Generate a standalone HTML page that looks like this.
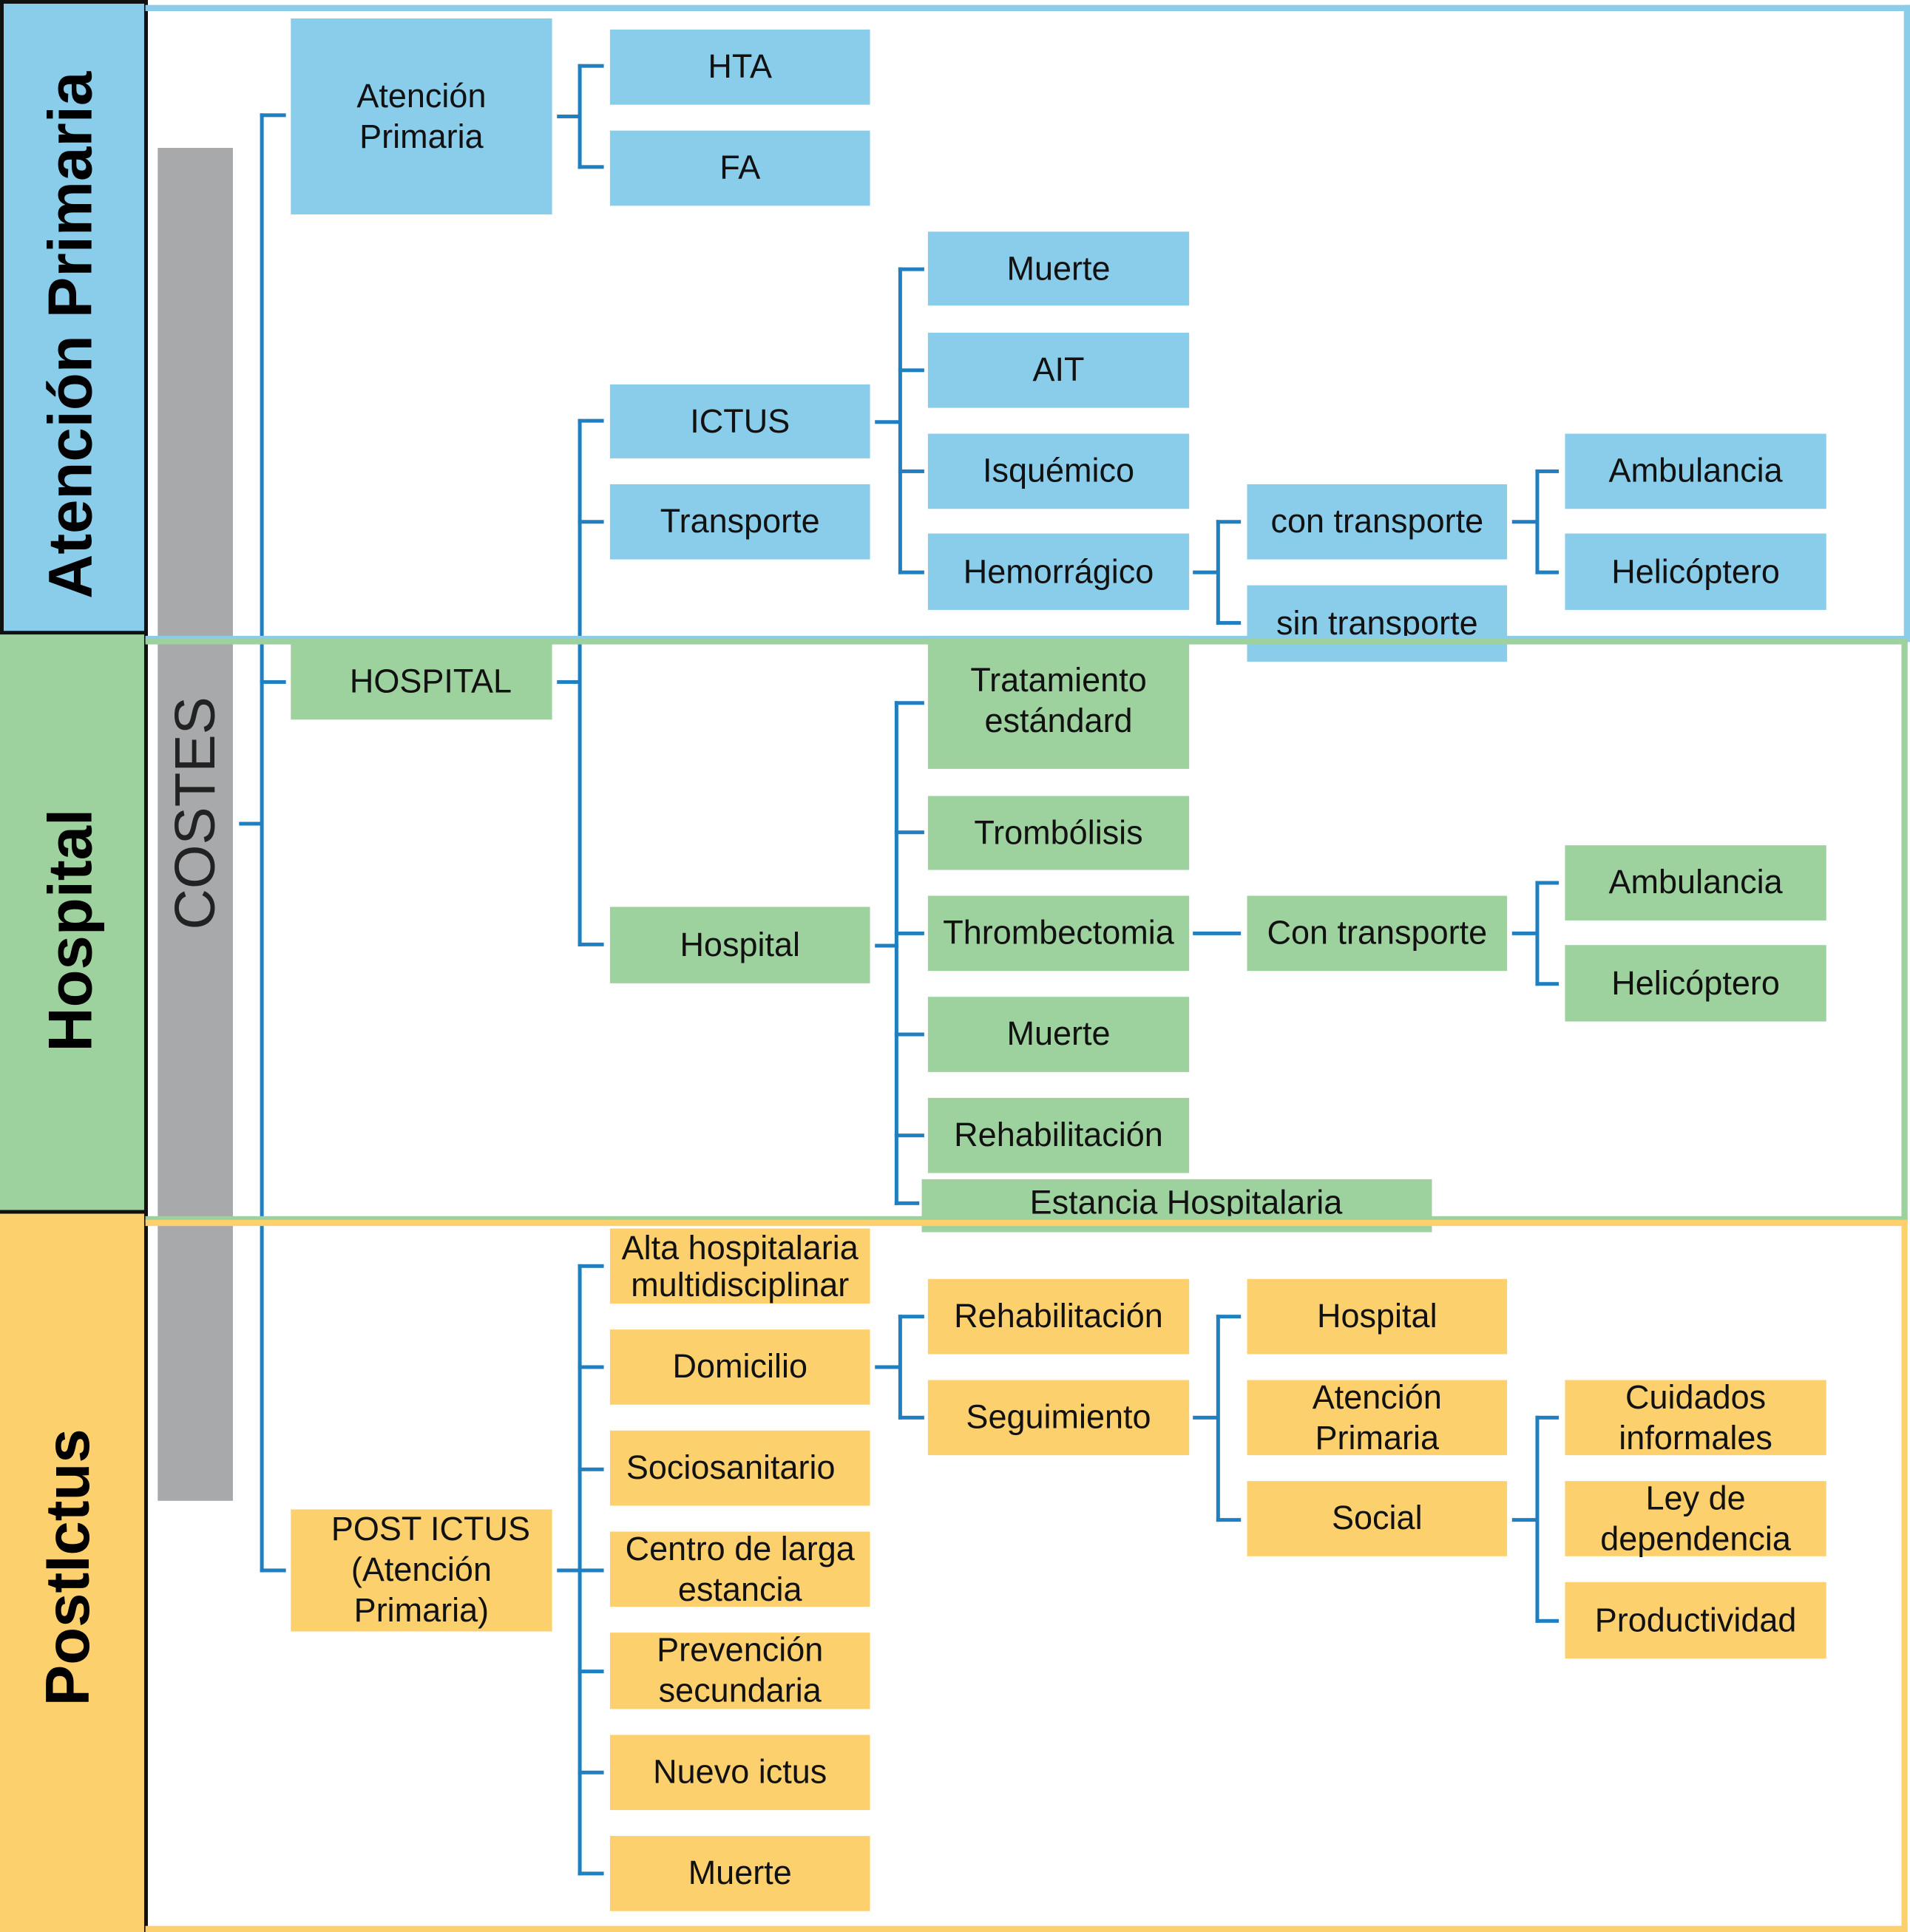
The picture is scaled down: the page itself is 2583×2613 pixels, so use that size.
<!DOCTYPE html>
<html><head><meta charset="utf-8"><style>
html,body{margin:0;padding:0;background:#fff;}
body{width:2583px;height:2613px;overflow:hidden;position:relative;}
#c{position:absolute;left:0;top:0;width:1550px;height:1568px;transform:scale(1.6665);transform-origin:0 0;font-family:"Liberation Sans",sans-serif;}
.b{position:absolute;display:flex;align-items:center;justify-content:center;text-align:center;font-size:27px;line-height:33px;color:#111;}
.bl{background:#89CDEA;}.gr{background:#9DD19D;}.ye{background:#FDD06E;}
.l{position:absolute;background:#1F7FC0;}
.f{position:absolute;box-sizing:border-box;}
.side{position:absolute;font-weight:bold;font-size:50px;white-space:nowrap;transform:translate(-50%,-50%) rotate(-90deg);color:#000;}
</style></head><body><div id="c">
<!-- side bands -->
<div style="position:absolute;left:0;top:0;width:120px;height:515px;background:#89CDEA;border:3px solid #111;box-sizing:border-box"></div>
<div style="position:absolute;left:0;top:515px;width:120px;height:470px;background:#9DD19D;border-bottom:3px solid #111;box-sizing:border-box"></div>
<div style="position:absolute;left:0;top:985px;width:120px;height:583px;background:#FDD06E"></div>
<div style="position:absolute;left:117px;top:0;width:3px;height:1568px;background:#111"></div>
<div class="side" style="left:57px;top:272px">Atención Primaria</div>
<div class="side" style="left:57px;top:755px">Hospital</div>
<div class="side" style="left:55px;top:1272px">PostIctus</div>
<!-- gray bar -->
<div style="position:absolute;left:128px;top:120px;width:61px;height:1098px;background:#A7A9AA"></div>
<div style="position:absolute;left:158px;top:660px;transform:translate(-50%,-50%) rotate(-90deg);font-size:46px;white-space:nowrap;color:#222">COSTES</div>
<!-- main connectors -->
<div class="l" style="left:194px;top:667px;width:19px;height:3px"></div>
<div class="l" style="left:211px;top:92px;width:3px;height:1184px"></div>
<div class="l" style="left:211px;top:92px;width:21px;height:3px"></div>
<div class="l" style="left:211px;top:552px;width:21px;height:3px"></div>
<div class="l" style="left:211px;top:1273px;width:21px;height:3px"></div>
<!-- AP -->
<div class="b bl" style="left:236px;top:15px;width:212px;height:159px">Atención<br>Primaria</div>
<div class="b bl" style="left:495px;top:24px;width:211px;height:61px">HTA</div>
<div class="b bl" style="left:495px;top:106px;width:211px;height:61px">FA</div>
<div class="l" style="left:452px;top:93px;width:19px;height:3px"></div>
<div class="l" style="left:469px;top:52px;width:3px;height:85px"></div>
<div class="l" style="left:469px;top:52px;width:21px;height:3px"></div>
<div class="l" style="left:469px;top:134px;width:21px;height:3px"></div>
<!-- HOSPITAL level -->
<div class="b gr" style="left:236px;top:522px;width:212px;height:62px">&nbsp;&nbsp;HOSPITAL</div>
<div class="l" style="left:452px;top:552px;width:19px;height:3px"></div>
<div class="l" style="left:469px;top:340px;width:3px;height:428px"></div>
<div class="l" style="left:469px;top:340px;width:21px;height:3px"></div>
<div class="l" style="left:469px;top:422px;width:21px;height:3px"></div>
<div class="l" style="left:469px;top:765px;width:21px;height:3px"></div>
<div class="b bl" style="left:495px;top:312px;width:211px;height:60px">ICTUS</div>
<div class="b bl" style="left:495px;top:393px;width:211px;height:61px">Transporte</div>
<div class="b gr" style="left:495px;top:736px;width:211px;height:62px">Hospital</div>
<!-- ICTUS -->
<div class="l" style="left:710px;top:341px;width:21px;height:3px"></div>
<div class="l" style="left:729px;top:217px;width:3px;height:249px"></div>
<div class="l" style="left:729px;top:217px;width:21px;height:3px"></div>
<div class="l" style="left:729px;top:299px;width:21px;height:3px"></div>
<div class="l" style="left:729px;top:381px;width:21px;height:3px"></div>
<div class="l" style="left:729px;top:463px;width:21px;height:3px"></div>
<div class="b bl" style="left:753px;top:188px;width:212px;height:60px">Muerte</div>
<div class="b bl" style="left:753px;top:270px;width:212px;height:61px">AIT</div>
<div class="b bl" style="left:753px;top:352px;width:212px;height:61px">Isquémico</div>
<div class="b bl" style="left:753px;top:433px;width:212px;height:62px">Hemorrágico</div>
<div class="l" style="left:968px;top:463px;width:21px;height:3px"></div>
<div class="l" style="left:987px;top:422px;width:3px;height:85px"></div>
<div class="l" style="left:987px;top:422px;width:20px;height:3px"></div>
<div class="l" style="left:987px;top:504px;width:20px;height:3px"></div>
<div class="b bl" style="left:1012px;top:393px;width:211px;height:61px">con transporte</div>
<div class="b bl" style="left:1012px;top:475px;width:211px;height:62px">sin transporte</div>
<div class="l" style="left:1227px;top:422px;width:21px;height:3px"></div>
<div class="l" style="left:1246px;top:381px;width:3px;height:85px"></div>
<div class="l" style="left:1246px;top:381px;width:19px;height:3px"></div>
<div class="l" style="left:1246px;top:463px;width:19px;height:3px"></div>
<div class="b bl" style="left:1270px;top:352px;width:212px;height:61px">Ambulancia</div>
<div class="b bl" style="left:1270px;top:433px;width:212px;height:62px">Helicóptero</div>
<!-- Hospital subtree -->
<div class="l" style="left:710px;top:766px;width:19px;height:3px"></div>
<div class="l" style="left:726px;top:569px;width:3px;height:409px"></div>
<div class="l" style="left:726px;top:569px;width:24px;height:3px"></div>
<div class="l" style="left:726px;top:674px;width:24px;height:3px"></div>
<div class="l" style="left:726px;top:756px;width:24px;height:3px"></div>
<div class="l" style="left:726px;top:838px;width:24px;height:3px"></div>
<div class="l" style="left:726px;top:920px;width:24px;height:3px"></div>
<div class="l" style="left:726px;top:975px;width:20px;height:3px"></div>
<div class="b gr" style="left:753px;top:516px;width:212px;height:108px;align-items:flex-start;padding-top:20px;box-sizing:border-box">Tratamiento<br>estándard</div>
<div class="b gr" style="left:753px;top:646px;width:212px;height:60px">Trombólisis</div>
<div class="b gr" style="left:753px;top:727px;width:212px;height:61px">Thrombectomia</div>
<div class="b gr" style="left:753px;top:809px;width:212px;height:61px">Muerte</div>
<div class="b gr" style="left:753px;top:891px;width:212px;height:61px">Rehabilitación</div>
<div class="b gr" style="left:748px;top:957px;width:414px;height:43px;align-items:flex-start;padding-top:3px;box-sizing:border-box">&nbsp;&nbsp;Estancia Hospitalaria</div>
<div class="l" style="left:968px;top:756px;width:39px;height:3px"></div>
<div class="b gr" style="left:1012px;top:727px;width:211px;height:61px">Con transporte</div>
<div class="l" style="left:1227px;top:756px;width:21px;height:3px"></div>
<div class="l" style="left:1246px;top:715px;width:3px;height:85px"></div>
<div class="l" style="left:1246px;top:715px;width:19px;height:3px"></div>
<div class="l" style="left:1246px;top:797px;width:19px;height:3px"></div>
<div class="b gr" style="left:1270px;top:686px;width:212px;height:61px">Ambulancia</div>
<div class="b gr" style="left:1270px;top:767px;width:212px;height:62px">Helicóptero</div>
<!-- Post ictus -->
<div class="b ye" style="left:236px;top:1225px;width:212px;height:99px">&nbsp;&nbsp;POST ICTUS<br>(Atención<br>Primaria)</div>
<div class="l" style="left:452px;top:1273px;width:19px;height:3px"></div>
<div class="l" style="left:469px;top:1026px;width:3px;height:496px"></div>
<div class="l" style="left:469px;top:1026px;width:21px;height:3px"></div>
<div class="l" style="left:469px;top:1108px;width:21px;height:3px"></div>
<div class="l" style="left:469px;top:1191px;width:21px;height:3px"></div>
<div class="l" style="left:469px;top:1273px;width:21px;height:3px"></div>
<div class="l" style="left:469px;top:1355px;width:21px;height:3px"></div>
<div class="l" style="left:469px;top:1437px;width:21px;height:3px"></div>
<div class="l" style="left:469px;top:1519px;width:21px;height:3px"></div>
<div class="b ye" style="left:495px;top:997px;width:211px;height:61px;line-height:30px">Alta hospitalaria<br>multidisciplinar</div>
<div class="b ye" style="left:495px;top:1079px;width:211px;height:61px">Domicilio</div>
<div class="b ye" style="left:495px;top:1161px;width:211px;height:61px">&nbsp;Sociosanitario&nbsp;&nbsp;&nbsp;</div>
<div class="b ye" style="left:495px;top:1243px;width:211px;height:61px">Centro de larga<br>estancia</div>
<div class="b ye" style="left:495px;top:1325px;width:211px;height:62px">Prevención<br>secundaria</div>
<div class="b ye" style="left:495px;top:1408px;width:211px;height:61px">Nuevo ictus</div>
<div class="b ye" style="left:495px;top:1490px;width:211px;height:61px">Muerte</div>
<div class="l" style="left:710px;top:1108px;width:21px;height:3px"></div>
<div class="l" style="left:729px;top:1067px;width:3px;height:85px"></div>
<div class="l" style="left:729px;top:1067px;width:21px;height:3px"></div>
<div class="l" style="left:729px;top:1149px;width:21px;height:3px"></div>
<div class="b ye" style="left:753px;top:1038px;width:212px;height:61px">Rehabilitación</div>
<div class="b ye" style="left:753px;top:1120px;width:212px;height:61px">Seguimiento</div>
<div class="l" style="left:968px;top:1149px;width:21px;height:3px"></div>
<div class="l" style="left:987px;top:1067px;width:3px;height:168px"></div>
<div class="l" style="left:987px;top:1067px;width:20px;height:3px"></div>
<div class="l" style="left:987px;top:1232px;width:20px;height:3px"></div>
<div class="b ye" style="left:1012px;top:1038px;width:211px;height:61px">Hospital</div>
<div class="b ye" style="left:1012px;top:1120px;width:211px;height:61px">Atención<br>Primaria</div>
<div class="b ye" style="left:1012px;top:1202px;width:211px;height:61px">Social</div>
<div class="l" style="left:1227px;top:1232px;width:21px;height:3px"></div>
<div class="l" style="left:1246px;top:1149px;width:3px;height:168px"></div>
<div class="l" style="left:1246px;top:1149px;width:19px;height:3px"></div>
<div class="l" style="left:1246px;top:1314px;width:19px;height:3px"></div>
<div class="b ye" style="left:1270px;top:1120px;width:212px;height:61px">Cuidados<br>informales</div>
<div class="b ye" style="left:1270px;top:1202px;width:212px;height:61px">Ley de<br>dependencia</div>
<div class="b ye" style="left:1270px;top:1284px;width:212px;height:62px">Productividad</div>
<!-- frames -->
<div class="f" style="left:118px;top:4px;width:1432px;height:517px;border:5px solid #89CDEA;border-left:none"></div>
<div class="f" style="left:118px;top:518px;width:1430px;height:474px;border:5px solid #9DD19D;border-left:none"></div>
<div class="f" style="left:118px;top:990px;width:1430px;height:578px;border:5px solid #FDD06E;border-left:none"></div>
</div></body></html>
